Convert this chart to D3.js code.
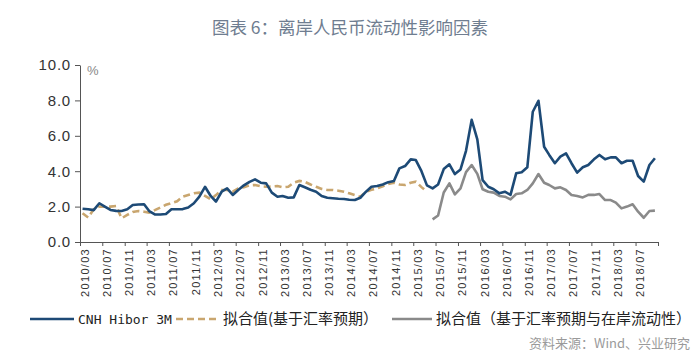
<!DOCTYPE html>
<html>
<head>
<meta charset="utf-8">
<script src="https://cdn.jsdelivr.net/npm/d3@7"></script>
<style>
  html, body { margin: 0; padding: 0; background: #fff; }
  svg { display: block; }
</style>
</head>
<body>
<svg id="chart" width="700" height="361"></svg>
<script>
// ---------------- data ----------------
const startMonth = "2010-03";
const endMonth = "2018-11";

const tickLabels = ["2010/03","2010/07","2010/11","2011/03","2011/07","2011/11","2012/03","2012/07","2012/11",
  "2013/03","2013/07","2013/11","2014/03","2014/07","2014/11","2015/03","2015/07","2015/11",
  "2016/03","2016/07","2016/11","2017/03","2017/07","2017/11","2018/03","2018/07"];

const yTicks = [0, 2, 4, 6, 8, 10];

// CNH Hibor 3M, monthly from 2010/03
const hibor = [1.88,1.85,1.80,2.19,2.00,1.81,1.76,1.75,1.85,2.09,
  2.12,2.13,1.75,1.56,1.55,1.58,1.85,1.85,1.86,1.95,
  2.19,2.56,3.12,2.60,2.28,2.84,3.03,2.66,2.94,3.20,
  3.40,3.54,3.35,3.31,2.79,2.56,2.60,2.50,2.52,3.22,
  3.09,2.95,2.84,2.60,2.50,2.47,2.44,2.43,2.39,2.37,
  2.50,2.84,3.12,3.16,3.25,3.38,3.45,4.16,4.29,4.67,
  4.63,4.00,3.20,3.03,3.25,4.12,4.39,3.84,4.10,5.15,
  6.90,5.80,3.50,3.12,2.98,2.75,2.84,2.66,3.88,3.94,
  4.22,7.36,7.98,5.38,4.92,4.45,4.82,5.01,4.45,3.92,
  4.22,4.35,4.67,4.92,4.67,4.78,4.78,4.45,4.59,4.59,
  3.73,3.41,4.35,4.73];

// 拟合值(基于汇率预期), monthly from 2010/03
const fitFx = [1.62,1.38,1.85,2.00,2.00,2.00,2.03,1.34,1.53,1.70,
  1.75,1.71,1.66,1.80,1.95,2.10,2.20,2.30,2.56,2.66,
  2.75,2.79,2.60,2.41,2.65,2.94,2.94,2.84,3.03,3.10,
  3.20,3.22,3.15,3.12,3.14,3.16,3.09,3.12,3.35,3.45,
  3.40,3.25,3.12,3.00,2.94,2.94,2.90,2.84,2.75,2.65,
  2.56,2.84,2.95,3.03,3.15,3.28,3.35,3.25,3.22,3.35,
  3.41,3.10,2.84];

// 拟合值(基于汇率预期与在岸流动性), monthly from 2015/06
const fitFxStart = "2015-06";
const fitFxLiq = [1.28,1.50,2.80,3.31,2.69,3.03,3.95,4.35,3.85,2.98,
  2.84,2.79,2.60,2.56,2.41,2.71,2.75,2.94,3.31,3.84,
  3.35,3.22,3.03,3.09,2.94,2.66,2.60,2.52,2.66,2.66,
  2.71,2.37,2.37,2.22,1.90,2.00,2.13,1.71,1.37,1.75,
  1.77];

const seriesNames = ["CNH Hibor 3M", "拟合值(基于汇率预期）", "拟合值（基于汇率预期与在岸流动性）"];
const titleText = "图表 6：离岸人民币流动性影响因素";
const sourceText = "资料来源：Wind、兴业研究";

// ---------------- helpers ----------------
const parseMonth = d3.timeParse("%Y-%m");
const parseLabel = d3.timeParse("%Y/%m");
const midMonth = (start, i) => {
  const d = d3.timeMonth.offset(parseMonth(start), i);
  return new Date(d.getFullYear(), d.getMonth(), 15);
};
const toPoints = (start, arr) => arr.map((v, i) => ({ date: midMonth(start, i), value: v }));

const COLORS = { hibor: "#1d4a76", fx: "#c9a66f", liq: "#8a8a8a" };

// ---------------- layout ----------------
const svg = d3.select("#chart");
const plot = { left: 80, right: 658, top: 65, bottom: 242 };

const x = d3.scaleTime()
  .domain([parseMonth(startMonth), parseMonth(endMonth)])
  .range([plot.left, plot.right]);
const y = d3.scaleLinear().domain([0, 10]).range([plot.bottom, plot.top]);

svg.append("rect").attr("width", 700).attr("height", 361).attr("fill", "#fff");

// title
svg.append("text")
  .attr("x", 350).attr("y", 34)
  .attr("text-anchor", "middle")
  .attr("font-family", "'Noto Sans CJK SC', sans-serif")
  .attr("font-size", 17.5)
  .attr("fill", "#6f7d90")
  .text(titleText);

// y axis
const yAxis = svg.append("g")
  .attr("transform", `translate(${plot.left},0)`)
  .call(d3.axisLeft(y).tickValues(yTicks).tickFormat(d3.format(".1f")).tickSize(5).tickSizeOuter(0));
yAxis.select(".domain").attr("stroke", "#555");
yAxis.selectAll(".tick line").attr("stroke", "#555");
yAxis.selectAll(".tick text")
  .attr("x", -9)
  .attr("font-family", "'Liberation Sans', Arial, sans-serif")
  .attr("font-size", 15)
  .attr("letter-spacing", 0.8)
  .attr("fill", "#333");

svg.append("text")
  .attr("x", 87).attr("y", 75)
  .attr("font-family", "'Liberation Sans', Arial, sans-serif")
  .attr("font-size", 13)
  .attr("fill", "#888")
  .text("%");

// x axis
const tickDates = tickLabels.map(parseLabel).concat([parseMonth(endMonth)]);
const labelFmt = d3.timeFormat("%Y/%m");
const xAxis = svg.append("g")
  .attr("transform", `translate(0,${plot.bottom})`)
  .call(d3.axisBottom(x).tickValues(tickDates)
    .tickFormat(d => tickLabels.includes(labelFmt(d)) ? labelFmt(d) : "")
    .tickSize(4).tickSizeOuter(0));
xAxis.select(".domain").attr("stroke", "#555");
xAxis.selectAll(".tick line").attr("stroke", "#555");
xAxis.selectAll(".tick text")
  .attr("transform", "rotate(-90)")
  .attr("text-anchor", "end")
  .attr("x", -6).attr("y", 8).attr("dy", 0)
  .attr("font-family", "'Liberation Sans', Arial, sans-serif")
  .attr("font-size", 11)
  .attr("letter-spacing", 1.3)
  .attr("fill", "#333");

// lines
const line = d3.line().x(d => x(d.date)).y(d => y(d.value));

svg.append("path")
  .datum(toPoints(startMonth, fitFx))
  .attr("fill", "none").attr("stroke", COLORS.fx)
  .attr("stroke-width", 2.6).attr("stroke-dasharray", "7,4")
  .attr("d", line);

svg.append("path")
  .datum(toPoints(fitFxStart, fitFxLiq))
  .attr("fill", "none").attr("stroke", COLORS.liq)
  .attr("stroke-width", 2.6).attr("stroke-linejoin", "round")
  .attr("d", line);

svg.append("path")
  .datum(toPoints(startMonth, hibor))
  .attr("fill", "none").attr("stroke", COLORS.hibor)
  .attr("stroke-width", 2.6).attr("stroke-linejoin", "round")
  .attr("d", line);

// legend
const legY = 319;
const lg = svg.append("g");
const legendItems = [
  { name: seriesNames[0], color: COLORS.hibor, dash: null, x0: 30, x1: 74, tx: 78, font: "'DejaVu Sans Mono', monospace", size: 13 },
  { name: seriesNames[1], color: COLORS.fx, dash: "7,4", x0: 176, x1: 219, tx: 223, font: "'Noto Sans CJK SC', sans-serif", size: 15 },
  { name: seriesNames[2], color: COLORS.liq, dash: null, x0: 392, x1: 432, tx: 436, font: "'Noto Sans CJK SC', sans-serif", size: 15 }
];
legendItems.forEach(it => {
  lg.append("line")
    .attr("x1", it.x0).attr("x2", it.x1).attr("y1", legY).attr("y2", legY)
    .attr("stroke", it.color).attr("stroke-width", 2.6)
    .attr("stroke-dasharray", it.dash);
  lg.append("text")
    .attr("x", it.tx).attr("y", legY + 5)
    .attr("font-family", it.font)
    .attr("font-size", it.size)
    .attr("fill", "#222")
    .text(it.name);
});

// source
svg.append("text")
  .attr("x", 690).attr("y", 348)
  .attr("text-anchor", "end")
  .attr("font-family", "'Noto Sans CJK SC', sans-serif")
  .attr("font-size", 13)
  .attr("fill", "#9a9a9a")
  .text(sourceText);
</script>
</body>
</html>
